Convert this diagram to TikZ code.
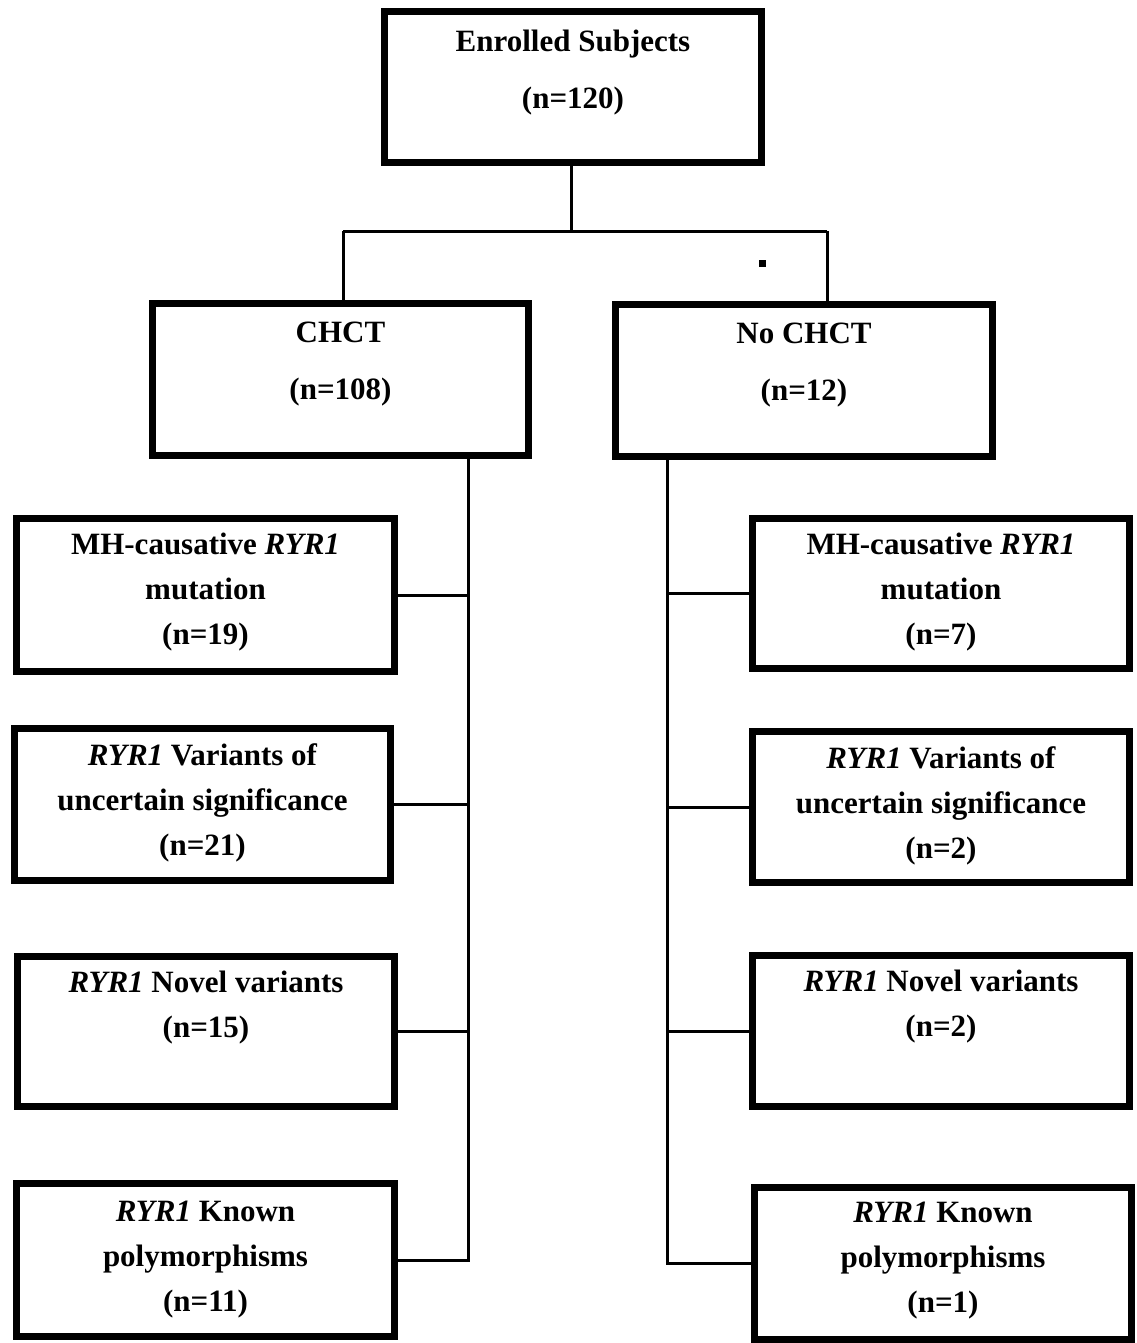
\documentclass[tikz,border=0pt]{standalone}
\usepackage{fontspec}
\setmainfont{Liberation Serif}
\usepackage{tikz}
\usetikzlibrary{positioning}

\begin{document}
\begin{tikzpicture}[x=1pt, y=-1pt,
    box/.style={draw, line width=7pt, inner sep=0pt},
    txt/.style={anchor=north, align=center, inner sep=0pt,
        font=\bfseries\fontsize{31}{45}\selectfont},
    conn/.style={line width=3pt}]
    \useasboundingbox (0,0) rectangle (1136,1343);

    % Kästen
    \node[box, minimum width=377, minimum height=151] (enr) at (573,87) {};
    \node[box, minimum width=376, minimum height=152] (chct) at (340.5,379.5) {};
    \node[box, minimum width=377, minimum height=152] (nochct) at (804,380.5) {};

    \node[box, minimum width=378, minimum height=153] (L1) at (205.5,595) {};
    \node[box, minimum width=376, minimum height=152] (L2) at (202.5,804.5) {};
    \node[box, minimum width=377, minimum height=150] (L3) at (206,1031.5) {};
    \node[box, minimum width=378, minimum height=153] (L4) at (205.5,1260) {};

    \node[box, minimum width=377, minimum height=150] (R1) at (941,593.5) {};
    \node[box, minimum width=377, minimum height=151] (R2) at (941,807) {};
    \node[box, minimum width=377, minimum height=151] (R3) at (941,1031) {};
    \node[box, minimum width=377, minimum height=152] (R4) at (943,1263.5) {};

    % Texte
    \node[txt, below=22pt of enr.north] (enr-t) {Enrolled Subjects\\[12pt](n=120)};
    \node[txt, below=22pt of chct.north] (chct-t) {CHCT\\[12pt](n=108)};
    \node[txt, below=22pt of nochct.north] (nochct-t) {No CHCT\\[12pt](n=12)};

    \node[txt, below=18pt of L1.north] (L1-t) {MH-causative \textit{RYR1}\\mutation\\(n=19)};
    \node[txt, below=18pt of L2.north] (L2-t) {\textit{RYR1} Variants of\\uncertain significance\\(n=21)};
    \node[txt, below=18pt of L3.north] (L3-t) {\textit{RYR1} Novel variants\\(n=15)};
    \node[txt, below=21pt of L4.north] (L4-t) {\textit{RYR1} Known\\polymorphisms\\(n=11)};

    \node[txt, below=18pt of R1.north] (R1-t) {MH-causative \textit{RYR1}\\mutation\\(n=7)};
    \node[txt, below=18pt of R2.north] (R2-t) {\textit{RYR1} Variants of\\uncertain significance\\(n=2)};
    \node[txt, below=18pt of R3.north] (R3-t) {\textit{RYR1} Novel variants\\(n=2)};
    \node[txt, below=18pt of R4.north] (R4-t) {\textit{RYR1} Known\\polymorphisms\\(n=1)};

    % Verbindungen oben
    \coordinate (split) at (571,231);
    \coordinate (jl) at (343,231);
    \coordinate (jr) at (827,231);
    \draw[conn] (enr.south -| split) -- (split);
    \draw[conn] (jl) -- (jr);
    \draw[conn] (jl) -- (jl |- chct.north);
    \draw[conn] (jr) -- (jr |- nochct.north);
    \node[fill, inner sep=0pt, minimum size=7pt] (dot) at (762,263) {};

    % Stämme
    \coordinate (lt) at (468,0);
    \coordinate (rt) at (667,0);
    \draw[conn] (chct.south -| lt) -- (L4.east -| lt) -- (L4.east);
    \draw[conn] (nochct.south -| rt) -- (R4.west -| rt) -- (R4.west);
    \foreach \b in {L1,L2,L3}
        \draw[conn] (\b.east) -- (\b.east -| lt);
    \foreach \b in {R1,R2,R3}
        \draw[conn] (\b.west) -- (\b.west -| rt);
\end{tikzpicture}
\end{document}
